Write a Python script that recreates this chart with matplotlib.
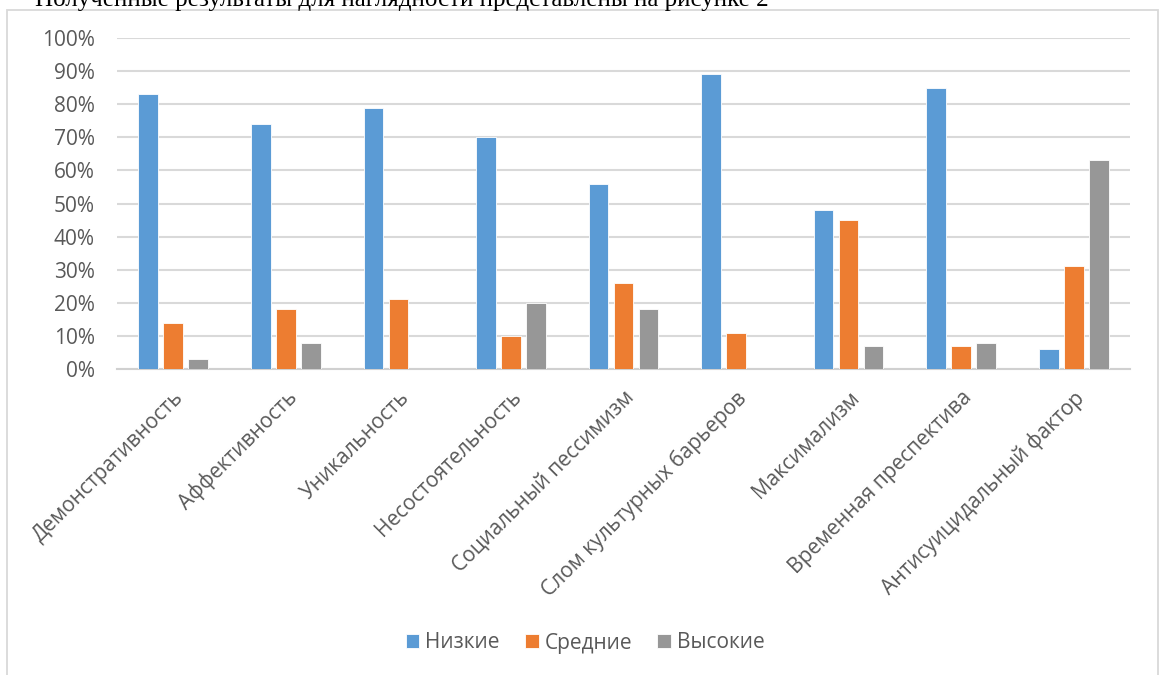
'''Bar chart: distribution of levels (low / medium / high) by scale.'''

import matplotlib
matplotlib.use("Agg")
import matplotlib.pyplot as plt
from matplotlib.patches import Rectangle
from matplotlib.ticker import PercentFormatter
import numpy as np

plt.rcParams['font.family'] = ['Open Sans', 'DejaVu Sans']

# data (percent)
categories = ['Демонстративность', 'Аффективность', 'Уникальность',
              'Несостоятельность', 'Социальный пессимизм',
              'Слом культурных барьеров', 'Максимализм',
              'Временная преспектива', 'Антисуицидальный фактор']
low = [83, 74, 79, 70, 56, 89, 48, 85, 6]
medium = [14, 18, 21, 10, 26, 11, 45, 7, 31]
high = [3, 8, 0, 20, 18, 0, 7, 8, 63]
series_names = ['Низкие', 'Средние', 'Высокие']
colors = ['#5b9bd5', '#ed7d31', '#979797']

W, H = 1159, 675
fig = plt.figure(figsize=(W / 100, H / 100), dpi=100)
ax = fig.add_axes([117 / W, 1 - 369 / H, (1130 - 117) / W, (369 - 38) / H])

x = np.arange(len(categories))
step = 0.222
width = 0.175
for i, (vals, name, col) in enumerate(zip([low, medium, high], series_names, colors)):
    ax.bar(x + (i - 1) * step, vals, width, color=col, label=name,
           edgecolor='white', linewidth=0.6, zorder=3)

ax.set_xlim(-0.5, len(categories) - 0.5)
ax.set_ylim(0, 100)
ax.set_yticks(np.arange(0, 101, 10))
ax.yaxis.set_major_formatter(PercentFormatter(decimals=0))
ax.grid(axis='y', color='#d9d9d9', linewidth=1.5, zorder=0)
for s in ['top', 'right', 'left']:
    ax.spines[s].set_visible(False)
ax.spines['bottom'].set_color('#d0d0d0')
ax.spines['bottom'].set_linewidth(1.5)
ax.tick_params(axis='both', length=0, labelsize=15, colors='#595959')
ax.tick_params(axis='y', pad=16)

ax.set_xticks(x)
ax.set_xticklabels(categories, rotation=45, ha='right', va='top',
                   rotation_mode='anchor')
ax.tick_params(axis='x', pad=13)

# legend below the labels
fig.legend(loc='center', bbox_to_anchor=(0.505, 1 - 643 / H), ncol=3,
           frameon=False, fontsize=15, labelcolor='#595959',
           handlelength=0.65, handleheight=0.65, handletextpad=0.3,
           columnspacing=1.2)

# chart area border
fig.add_artist(Rectangle((7 / W, -0.1), (1158 - 7) / W, 1.1 - 10 / H,
                         transform=fig.transFigure, fill=False,
                         edgecolor='#d9d9d9', linewidth=1.3, clip_on=False))

# the line of document text cut off above the chart
fig.text(35 / W, 1 - 6 / H,
         'Полученные результаты для наглядности представлены на рисунке 2',
         family='Liberation Serif', fontsize=18, color='black', va='baseline')

fig.savefig('out.png', dpi=100)
